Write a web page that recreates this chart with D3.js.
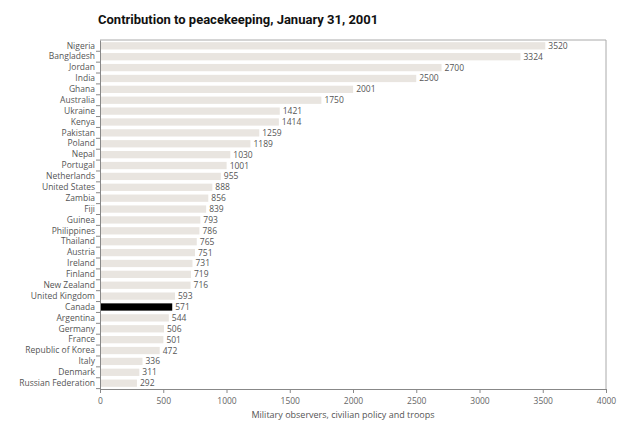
<!DOCTYPE html>
<html>
<head>
<meta charset="utf-8">
<script src="https://cdn.jsdelivr.net/npm/d3@7"></script>
<style>
  body { margin: 0; background: #fff; }
  svg text { font-family: "Open Sans", "DejaVu Sans", sans-serif; }
</style>
</head>
<body>
<svg id="chart"></svg>
<script>
const countries = ["Nigeria", "Bangladesh", "Jordan", "India", "Ghana", "Australia", "Ukraine", "Kenya",
  "Pakistan", "Poland", "Nepal", "Portugal", "Netherlands", "United States", "Zambia", "Fiji",
  "Guinea", "Philippines", "Thailand", "Austria", "Ireland", "Finland", "New Zealand", "United Kingdom",
  "Canada", "Argentina", "Germany", "France", "Republic of Korea", "Italy", "Denmark", "Russian Federation"];
const personnel = [3520, 3324, 2700, 2500, 2001, 1750, 1421, 1414,
  1259, 1189, 1030, 1001, 955, 888, 856, 839,
  793, 786, 765, 751, 731, 719, 716, 593,
  571, 544, 506, 501, 472, 336, 311, 292];
const xTicks = [0, 500, 1000, 1500, 2000, 2500, 3000, 3500, 4000];
const highlight = "Canada";

const width = 640, height = 442;
const margin = {top: 40, right: 34, bottom: 53, left: 100};
const innerW = width - margin.left - margin.right;
const innerH = height - margin.top - margin.bottom;

const svg = d3.select("#chart").attr("width", width).attr("height", height);

svg.append("text")
  .attr("x", 98).attr("y", 24)
  .attr("font-size", 13).attr("font-weight", "bold")
  .attr("fill", "#111")
  .style("font-family", "Roboto, 'Liberation Sans', sans-serif")
  .text("Contribution to peacekeeping, January 31, 2001");

const chart = svg.append("g").attr("transform", `translate(${margin.left},${margin.top})`);

const x = d3.scaleLinear().domain([0, 4000]).range([0, innerW]);
const y = d3.scaleBand().domain(countries).range([0, innerH]).paddingInner(0.33).paddingOuter(0.2);

// frame (top and right)
chart.append("path")
  .attr("d", `M0,0H${innerW}V${innerH}`)
  .attr("fill", "none").attr("stroke", "#aaa").attr("stroke-width", 1);

chart.selectAll("rect.bar")
  .data(countries)
  .join("rect")
  .attr("class", "bar")
  .attr("x", 1)
  .attr("y", d => y(d))
  .attr("width", (d, i) => x(personnel[i]) - 1)
  .attr("height", y.bandwidth())
  .attr("fill", d => d === highlight ? "#000" : "#e9e5e0");

chart.selectAll("text.val")
  .data(countries)
  .join("text")
  .attr("class", "val")
  .attr("x", (d, i) => x(personnel[i]) + 3)
  .attr("y", d => y(d) + y.bandwidth() / 2)
  .attr("dy", "0.35em")
  .attr("font-size", 8.5)
  .attr("fill", "#555")
  .text((d, i) => personnel[i]);

// x axis
const xAxis = d3.axisBottom(x).tickValues(xTicks).tickSize(4).tickPadding(5).tickFormat(d3.format("d"));
const xg = chart.append("g").attr("transform", `translate(0,${innerH})`).call(xAxis);
xg.select(".domain").attr("stroke", "#888");
xg.selectAll(".tick line").attr("stroke", "#888");
xg.selectAll("text").attr("font-size", 8.5).attr("fill", "#666");

// y axis
const yAxis = d3.axisLeft(y).tickSize(0).tickPadding(5);
const yg = chart.append("g").call(yAxis);
yg.select(".domain").attr("stroke", "#888");
yg.selectAll("text").attr("font-size", 8.5).attr("fill", "#555");

// small ticks between categories
const step = y.step();
chart.selectAll("line.ytick")
  .data(countries)
  .join("line")
  .attr("class", "ytick")
  .attr("x1", -4).attr("x2", 0)
  .attr("y1", d => y(d) + y.bandwidth() + step * 0.33 / 2)
  .attr("y2", d => y(d) + y.bandwidth() + step * 0.33 / 2)
  .attr("stroke", "#888");

chart.append("text")
  .attr("x", innerW / 2 - 10)
  .attr("y", innerH + 29)
  .attr("text-anchor", "middle")
  .attr("font-size", 9)
  .attr("fill", "#555")
  .text("Military observers, civilian policy and troops");
</script>
</body>
</html>
